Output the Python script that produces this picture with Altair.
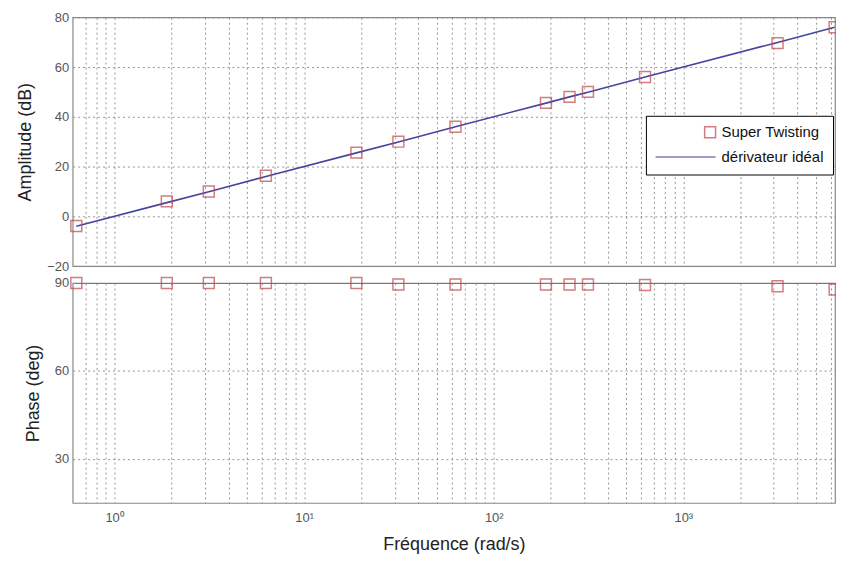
import altair as alt
import pandas as pd

# ---- data ----
freq = [0.628, 1.885, 3.14, 6.28, 18.85, 31.4, 62.8, 188.5, 251, 314, 628, 3140, 6280]
amp_st = [-3.9, 6.0, 10.0, 16.3, 25.6, 30.0, 36.0, 45.6, 48.0, 50.0, 56.0, 69.6, 76.0]
amp_ideal = [-4.0, 5.5, 9.9, 16.0, 25.5, 29.9, 36.0, 45.5, 48.0, 49.9, 56.0, 69.9, 76.0]
phase_st = [90, 90, 90, 90, 90, 89.5, 89.5, 89.5, 89.5, 89.5, 89.3, 88.9, 87.8]
phase_ideal = [90, 90, 90, 90, 90, 90, 90, 90, 90, 90, 90, 90, 90]
series = ["Super Twisting", "dérivateur idéal"]
colors = ["#c0474a", "#45459e"]
amp_ticks = [-20, 0, 20, 40, 60, 80]
phase_ticks = [30, 60, 90]
x_grid = [m * 10 ** e for e in range(-1, 4) for m in range(1, 10) if 0.6 <= m * 10 ** e <= 6300]

df_st = pd.DataFrame({"freq": freq, "amp": amp_st, "phase": phase_st, "series": series[0]})
df_id = pd.DataFrame({"freq": freq, "amp": amp_ideal, "phase": phase_ideal, "series": series[1]})

W, H1, H2 = 766, 250, 221
grid_dash = [2, 3]
label_expr = ("abs(log(datum.value)/LN10 - round(log(datum.value)/LN10)) < 0.000001 ? "
              "'10' + ['⁰','¹','²','³','⁴'][round(log(datum.value)/LN10)] : ''")

xscale = alt.Scale(type="log", domain=[0.601, 6310], nice=False)
legend = alt.Legend(title=None, orient="none", legendX=576, legendY=99,
                    strokeColor="black", fillColor="white", padding=9,
                    symbolSize=120, symbolStrokeWidth=1.5, symbolOffset=48,
                    labelFontSize=15, labelColor="#111", rowPadding=9, labelOffset=4,
                    labelFont="Liberation Sans")
color_enc = alt.Color("series:N", scale=alt.Scale(domain=series, range=colors), legend=legend)
shape_enc = alt.Shape("series:N", scale=alt.Scale(domain=series, range=["square", "M-10,0H1"]),
                      legend=legend)


def x_enc(show):
    if show:
        ax = alt.Axis(values=x_grid, labelExpr=label_expr, grid=True, gridDash=grid_dash,
                      gridColor="#8a8a8a", ticks=False, domain=False, labelPadding=9,
                      labelFontSize=13, labelColor="#555", title="Fréquence (rad/s)",
                      titlePadding=11, labelFlush=False)
    else:
        ax = alt.Axis(values=x_grid, labels=False, grid=True, gridDash=grid_dash,
                      gridColor="#8a8a8a", ticks=False, domain=False, title=None)
    return alt.X("freq:Q", scale=xscale, axis=ax)


def y_enc(field, dom, ticks, title):
    return alt.Y(f"{field}:Q", scale=alt.Scale(domain=dom, nice=False),
                 axis=alt.Axis(values=ticks, grid=True, gridDash=grid_dash, gridColor="#8a8a8a",
                               ticks=False, domain=False, labelFontSize=13, labelColor="#555",
                               labelPadding=4, title=title, titlePadding=12))


top = alt.layer(
    alt.Chart(df_id).mark_line(strokeWidth=1.6).encode(
        x=x_enc(False), y=y_enc("amp", [-20, 80], amp_ticks, "Amplitude (dB)"), color=color_enc),
    alt.Chart(df_st).mark_point(filled=False, size=120, strokeWidth=1.5).encode(
        x=x_enc(False), y=y_enc("amp", [-20, 80], amp_ticks, "Amplitude (dB)"),
        color=color_enc, shape=shape_enc),
).properties(width=W, height=H1)

bottom = alt.layer(
    alt.Chart(df_id).mark_line(clip=True, strokeWidth=1.0, opacity=0.6).encode(
        x=x_enc(True), y=y_enc("phase", [15, 90], phase_ticks, "Phase (deg)"),
        color=alt.Color("series:N", scale=alt.Scale(domain=series, range=colors), legend=None)),
    alt.Chart(df_st).mark_point(filled=False, size=120, strokeWidth=1.5, shape="square").encode(
        x=x_enc(True), y=y_enc("phase", [15, 90], phase_ticks, "Phase (deg)"),
        color=alt.Color("series:N", scale=alt.Scale(domain=series, range=colors), legend=None)),
).properties(width=W, height=H2)

chart = alt.vconcat(top, bottom, spacing=17, bounds="flush").resolve_scale(
    color="independent", shape="independent"
).properties(
    padding={"left": 8, "top": 1, "right": -8, "bottom": -2}
).configure(
    font="Liberation Sans"
).configure_view(
    stroke="#888", strokeWidth=1.2
).configure_axis(
    titleFontSize=18, titleFontWeight="normal", titleColor="#222", labelFont="Liberation Sans",
    titleFont="Liberation Sans", gridOpacity=0.9
)

chart.save("out.html", embed_options={"renderer": "svg", "actions": False})
